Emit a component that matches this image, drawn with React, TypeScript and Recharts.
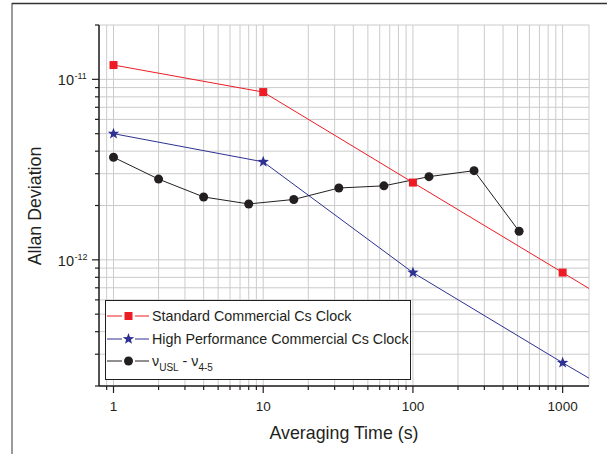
import React from "react";
import { ComposedChart, Line, XAxis, YAxis, CartesianGrid, Legend } from "recharts";

// averaging times (s) and Allan deviations
const tauStd = [1, 10, 100, 1000, 1500];
const stdClock = [1.2e-11, 8.5e-12, 2.68e-12, 8.5e-13, 6.94e-13];

const tauHp = [1, 10, 100, 1000, 1500];
const hpClock = [5.0e-12, 3.49e-12, 8.5e-13, 2.69e-13, 2.21e-13];

const tauBeat = [1, 2, 4, 8, 16, 32, 64, 128, 256, 512];
const beat = [3.7e-12, 2.8e-12, 2.23e-12, 2.04e-12, 2.16e-12, 2.5e-12, 2.57e-12, 2.89e-12, 3.12e-12, 1.44e-12];

// the clock lines run on to the frame edge; markers only up to here
const lastMarkedTau = 1000;

const xDecades = [0, 1, 2, 3];
const yDecades = [-13, -12, -11];
const xDomain = [0.8, 1500];
const yDomain = [2e-13, 2e-11];

const seriesNames = ["Standard Commercial Cs Clock", "High Performance Commercial Cs Clock"];

const RED = "#ed1c24";
const BLUE = "#2e3192";
const BLACK = "#231f20";
const FONT = '"Liberation Sans", Arial, sans-serif';

function logTicks(decades: number[], lo: number, hi: number, extra: number[] = []) {
  const out: number[] = [...extra];
  decades.forEach((d) => {
    for (let m = 1; m <= 9; m++) {
      const v = parseFloat(`${m}e${d}`);
      if (v >= lo * 0.999 && v <= hi * 1.001) out.push(v);
    }
  });
  return out;
}

const xTicks = logTicks(xDecades, 1, 1000, [0.9]);
const yTicks = logTicks(yDecades, yDomain[0], yDomain[1]);

const isMajor = (v: number) => Math.abs(Math.log10(v) - Math.round(Math.log10(v))) < 1e-6;

const rows = (xs: number[], ys: number[]) => xs.map((t, i) => ({ tau: t, v: ys[i] }));
const stdRows = rows(tauStd, stdClock);
const hpRows = rows(tauHp, hpClock);
const beatRows = rows(tauBeat, beat);

function starPoints(cx: number, cy: number, R: number, r: number) {
  const pts: string[] = [];
  for (let i = 0; i < 10; i++) {
    const a = -Math.PI / 2 + (i * Math.PI) / 5;
    const rad = i % 2 === 0 ? R : r;
    pts.push(`${cx + rad * Math.cos(a)},${cy + rad * Math.sin(a)}`);
  }
  return pts.join(" ");
}

const Square = ({ cx, cy }: any) => <rect x={cx - 4} y={cy - 4} width={8} height={8} fill={RED} />;
const Star = ({ cx, cy }: any) => <polygon points={starPoints(cx, cy, 6, 2.5)} fill={BLUE} />;
const Dot = ({ cx, cy }: any) => <circle cx={cx} cy={cy} r={4.5} fill={BLACK} />;

const markerDot = (Shape: any) => (p: any) =>
  p.payload.tau <= lastMarkedTau ? <Shape key={p.index} cx={p.cx} cy={p.cy} /> : <g key={p.index} />;

const XTick = ({ x, y, payload }: any) => {
  const major = isMajor(payload.value);
  return (
    <g>
      <line x1={x} x2={x} y1={y} y2={y + (major ? 7 : 4)} stroke={BLACK} strokeWidth={1.2} />
      {major && (
        <text x={x} y={y + 25} textAnchor="middle" style={{ fontSize: 13.5, fontFamily: FONT }} fill={BLACK}>
          {payload.value}
        </text>
      )}
    </g>
  );
};

const TopTick = ({ x, y }: any) => (
  <line x1={x} x2={x} y1={y} y2={y + 2.5} stroke={BLACK} strokeWidth={1.2} />
);

const YTick = ({ x, y, payload }: any) => {
  const major = isMajor(payload.value);
  const exp = Math.round(Math.log10(payload.value));
  return (
    <g>
      <line x1={x - (major ? 7 : 4)} x2={x} y1={y} y2={y} stroke={BLACK} strokeWidth={1.2} />
      {major && (
        <g>
          <text x={x - 25} y={y + 6} textAnchor="end" style={{ fontSize: 14.5, fontFamily: FONT }} fill={BLACK}>
            10
          </text>
          <text x={x - 24.5} y={y} textAnchor="start" style={{ fontSize: 9, fontFamily: FONT }} fill={BLACK}>
            {exp}
          </text>
        </g>
      )}
    </g>
  );
};

const RightTick = ({ x, y }: any) => (
  <line x1={x} x2={x + 2} y1={y} y2={y} stroke={BLACK} strokeWidth={1.2} />
);

const LegendSample = ({ color, Shape }: any) => (
  <svg width={42} height={16} style={{ position: "absolute", left: 1, top: 2 }}>
    <line x1={0} x2={15} y1={8} y2={8} stroke={color} strokeWidth={1} />
    <line x1={28} x2={42} y1={8} y2={8} stroke={color} strokeWidth={1} />
    <Shape cx={21.5} cy={8} />
  </svg>
);

const LegendBox = () => {
  const items = [
    { color: RED, Shape: Square, label: <span>{seriesNames[0]}</span> },
    { color: BLUE, Shape: Star, label: <span>{seriesNames[1]}</span> },
    {
      color: BLACK,
      Shape: Dot,
      label: (
        <span>
          ν<sub style={{ fontSize: 10, verticalAlign: -5 }}>USL</sub> - ν
          <sub style={{ fontSize: 10, verticalAlign: -5 }}>4-5</sub>
        </span>
      ),
    },
  ];
  return (
    <div
      style={{
        position: "relative",
        width: 306,
        height: 80,
        boxSizing: "border-box",
        border: `1px solid ${BLACK}`,
        background: "#fff",
        fontFamily: FONT,
        fontSize: 14.3,
        color: BLACK,
      }}
    >
      {items.map((it, i) => (
        <div key={i} style={{ position: "absolute", left: 0, top: 5 + i * 22.6, height: 20, width: 304 }}>
          <LegendSample color={it.color} Shape={it.Shape} />
          <div style={{ position: "absolute", left: 46, top: 1, whiteSpace: "nowrap", lineHeight: "18px" }}>
            {it.label}
          </div>
        </div>
      ))}
    </div>
  );
};

export default function App() {
  return (
    <div style={{ position: "absolute", left: 0, top: 0, width: 607, height: 454, background: "#fff" }}>
      <ComposedChart width={607} height={454} margin={{ top: 25, right: 18, bottom: 0, left: 0 }}>
        <CartesianGrid stroke="#cbcbcb" strokeWidth={1} />
        <XAxis
          dataKey="tau"
          type="number"
          scale="log"
          domain={xDomain}
          allowDataOverflow
          ticks={xTicks}
          interval={0}
          height={68}
          tickSize={0}
          tickMargin={0}
          tickLine={false}
          axisLine={{ stroke: BLACK, strokeWidth: 1.5 }}
          tick={<XTick />}
        />
        <XAxis
          xAxisId="top"
          orientation="top"
          dataKey="tau"
          type="number"
          scale="log"
          domain={xDomain}
          allowDataOverflow
          ticks={xTicks}
          interval={0}
          height={0}
          tickSize={0}
          tickMargin={0}
          tickLine={false}
          axisLine={{ stroke: BLACK, strokeWidth: 1.5 }}
          tick={<TopTick />}
        />
        <YAxis
          type="number"
          scale="log"
          domain={yDomain}
          allowDataOverflow
          ticks={yTicks}
          interval={0}
          width={99}
          tickSize={0}
          tickMargin={0}
          tickLine={false}
          axisLine={{ stroke: BLACK, strokeWidth: 1.5 }}
          tick={<YTick />}
        />
        <YAxis
          yAxisId="right"
          orientation="right"
          type="number"
          scale="log"
          domain={yDomain}
          allowDataOverflow
          ticks={yTicks}
          interval={0}
          width={0}
          tickSize={0}
          tickMargin={0}
          tickLine={false}
          axisLine={{ stroke: BLACK, strokeWidth: 1.5 }}
          tick={<RightTick />}
        />
        <Legend
          layout="vertical"
          align="center"
          verticalAlign="middle"
          wrapperStyle={{ left: 105, top: 300, width: 306, height: 80 }}
          content={() => <LegendBox />}
        />
        <Line data={stdRows} dataKey="v" type="linear" stroke={RED} strokeWidth={1} dot={markerDot(Square)} activeDot={false} isAnimationActive={false} />
        <Line data={hpRows} dataKey="v" type="linear" stroke={BLUE} strokeWidth={1} dot={markerDot(Star)} activeDot={false} isAnimationActive={false} />
        <Line data={beatRows} dataKey="v" type="linear" stroke={BLACK} strokeWidth={1} dot={markerDot(Dot)} activeDot={false} isAnimationActive={false} />
      </ComposedChart>
      <svg width={607} height={454} style={{ position: "absolute", left: 0, top: 0, pointerEvents: "none" }}>
        <line x1={12} x2={12} y1={3} y2={454} stroke="#7a7a7a" strokeWidth={1.5} />
        <line x1={12} x2={607} y1={3.5} y2={3.5} stroke="#333" strokeWidth={1.5} />
        <text x={40.5} y={206} transform="rotate(-90 40.5 206)" textAnchor="middle" fontSize={17.8} fontFamily={FONT} fill={BLACK}>
          Allan Deviation
        </text>
        <text x={344} y={439} textAnchor="middle" fontSize={17.8} fontFamily={FONT} fill={BLACK}>
          Averaging Time (s)
        </text>
      </svg>
    </div>
  );
}
